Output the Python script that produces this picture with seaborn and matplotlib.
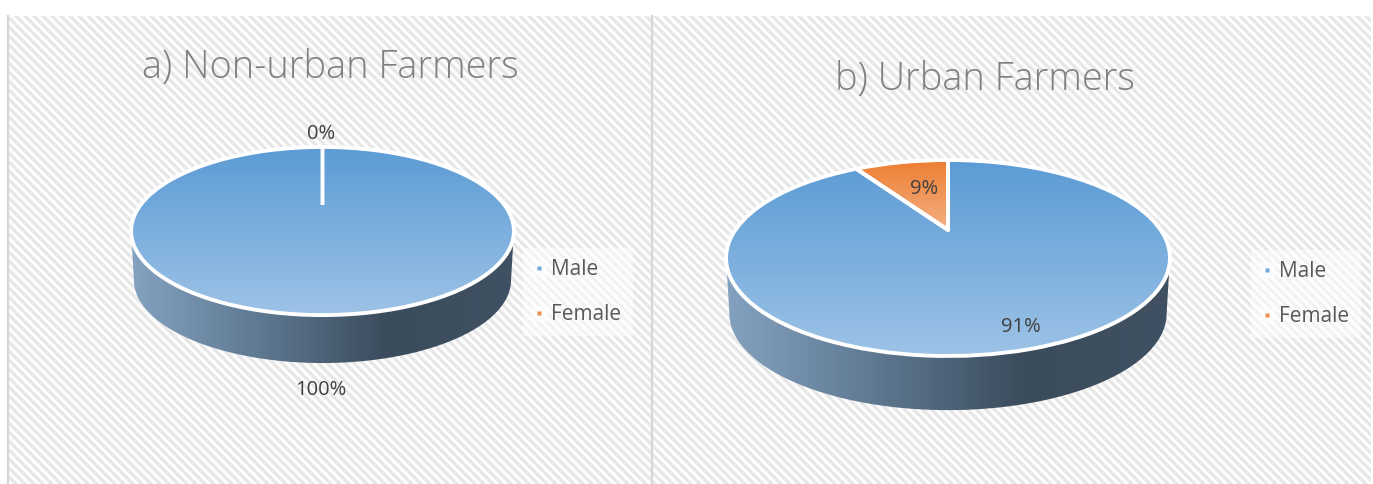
import numpy as np
import matplotlib
matplotlib.use('Agg')
import matplotlib.pyplot as plt
import seaborn as sns
from matplotlib.legend_handler import HandlerTuple
from matplotlib.lines import Line2D
from matplotlib.patches import Polygon
from matplotlib.transforms import Affine2D, Transform

categories = ['Male', 'Female']
non_urban_values = [100, 0]
urban_values = [91, 9]
titles = ['a) Non-urban Farmers', 'b) Urban Farmers']

W, H = 1373, 484
sns.set_theme(style='white')
plt.rcParams['font.family'] = ['Open Sans', 'DejaVu Sans']

top_colors = sns.color_palette(['#5b9bd5', '#ed7d31'])
male_fill = sns.blend_palette(['#5b9bd5', '#9dc3e6'], as_cmap=True)
female_fill = sns.blend_palette(['#ed7d31', '#f4b183'], as_cmap=True)
wall_fill = sns.blend_palette(['#84a2c0', '#5f7992', '#3b4c5c', '#3f5162'], as_cmap=True)
fills = [male_fill, female_fill]


class Tilt(Transform):
    # perspective of the excel 3d pie, the centre sits above the middle of the ellipse
    input_dims = 2
    output_dims = 2

    def __init__(self, k):
        super().__init__()
        self.k = k

    def transform_non_affine(self, xy):
        xy = np.asarray(xy, dtype=float)
        return xy / (1 + self.k * xy[:, 1])[:, None]


def draw_panel(box, values, title, title_pos, pie_geo, wall_geo, label_pos, legend_pos):
    x0, x1 = box
    ax = fig.add_axes([x0 / W, 0, (x1 - x0) / W, (H - 16) / H])
    ax.patch.set_alpha(0)
    k, sx, sy, cx, cy = pie_geo
    tilt = Tilt(k)
    place = Affine2D().scale(sx, -sy).translate(cx, cy)

    # side wall, between the top ellipse and a smaller shifted copy
    s, depth = wall_geo
    t = np.linspace(0, 2 * np.pi, 721)[:-1]
    circle = np.column_stack([np.cos(t), np.sin(t)])
    upper = place.transform(tilt.transform(circle))
    lower = Affine2D().translate(-cx, -cy).scale(s).translate(cx, cy + depth).transform(upper)
    i_right = upper[:, 0].argmax()
    i_left = upper[:, 0].argmin()
    side = np.vstack([np.roll(upper, -i_left, axis=0)[:(i_right - i_left) % 720 + 1],
                      np.roll(lower, -i_left, axis=0)[:(i_right - i_left) % 720 + 1][::-1]])
    wall = Polygon(side, closed=True, transform=ax.transData, fc='none', ec='none')
    ax.add_patch(wall)
    im = ax.imshow(np.linspace(0, 1, 256)[None, :], cmap=wall_fill, aspect='auto', zorder=1,
                   extent=(upper[:, 0].min(), upper[:, 0].max(), H, 0))
    im.set_clip_path(wall)

    wedges, _ = ax.pie(values, colors=top_colors, startangle=90, counterclock=False,
                       wedgeprops={'edgecolor': 'white', 'linewidth': 2.8, 'joinstyle': 'round'})
    ax.set_aspect('auto')
    for wedge, value, fill in zip(wedges, values, fills):
        wedge.set_transform(tilt + place + ax.transData)
        wedge.set_clip_on(False)
        wedge.set_facecolor('none')
        wedge.set_zorder(3)
        if value == 0:
            continue
        pts = (tilt + place).transform(wedge.get_patch_transform().transform(wedge.get_path().vertices))
        im = ax.imshow(np.linspace(0, 1, 256)[:, None], cmap=fill, aspect='auto', zorder=2,
                       extent=(upper[:, 0].min(), upper[:, 0].max(), pts[:, 1].max(), pts[:, 1].min()))
        im.set_clip_path(wedge)

    ax.set_xlim(x0, x1)
    ax.set_ylim(H, 16)
    ax.set_xticks([])
    ax.set_yticks([])
    ax.set_frame_on(True)
    sns.despine(ax=ax, right=True, bottom=True)
    for side_name in ['left', 'top']:
        ax.spines[side_name].set_color('#d6d6d6')
        ax.spines[side_name].set_linewidth(1.6)

    ax.text(title_pos[0], title_pos[1], title, ha='center', va='center',
            fontsize=27.3, fontweight='light', color='#808080')
    for value, pos in zip(values, label_pos):
        ax.text(pos[0], pos[1], f'{value}%', ha='center', va='center',
                fontsize=14.5, color='#404040', zorder=5)

    handles = [(Line2D([], [], ls='none', marker='s', ms=11, mfc='white', mec='none', alpha=0.6),
                Line2D([], [], ls='none', marker='s', ms=3.4, mfc=c, mec='none'))
               for c in ['#6fa8dc', '#ed8d4f']]
    leg = ax.legend(handles, categories, loc='upper left', bbox_to_anchor=legend_pos,
                    bbox_transform=ax.transData, borderaxespad=0, borderpad=0.55,
                    handlelength=0.4, handletextpad=0.4, labelspacing=1.13,
                    handler_map={tuple: HandlerTuple(ndivide=1, pad=0)},
                    fontsize=15, labelcolor='#595959', frameon=True, fancybox=False,
                    framealpha=0.5, facecolor='white', edgecolor='none')
    leg.set_zorder(6)


fig = plt.figure(figsize=(W / 100, H / 100), dpi=100, facecolor='white')

# diagonal weave of the chart area, drawn in one full size background axes
bg = fig.add_axes([0, 0, 1, 1], zorder=-1)
yy, xx = np.mgrid[0:H, 0:W]
weave = 0.5 + 0.5 * np.cos(2 * np.pi * (xx - yy) / 9.0)
weave = np.where((xx >= 8) & (xx < 1371) & (yy >= 16), 0.11 * weave, 0)
bg.imshow(1 - weave, cmap='gray', vmin=0, vmax=1, interpolation='nearest', aspect='auto')
bg.axis('off')

draw_panel((8, 652), non_urban_values, titles[0], (330, 68),
           (0.3096, 182, 76, 322.5, 205), (0.985, 49.6),
           [(321, 390), (321, 134)], (523, 248))
draw_panel((652, 1371), urban_values, titles[1], (985, 80),
           (0.2857, 212.7, 90, 948, 230), (0.985, 56),
           [(1021, 327), (924, 189)], (1251, 250))

plt.savefig('out.png', dpi=100)
